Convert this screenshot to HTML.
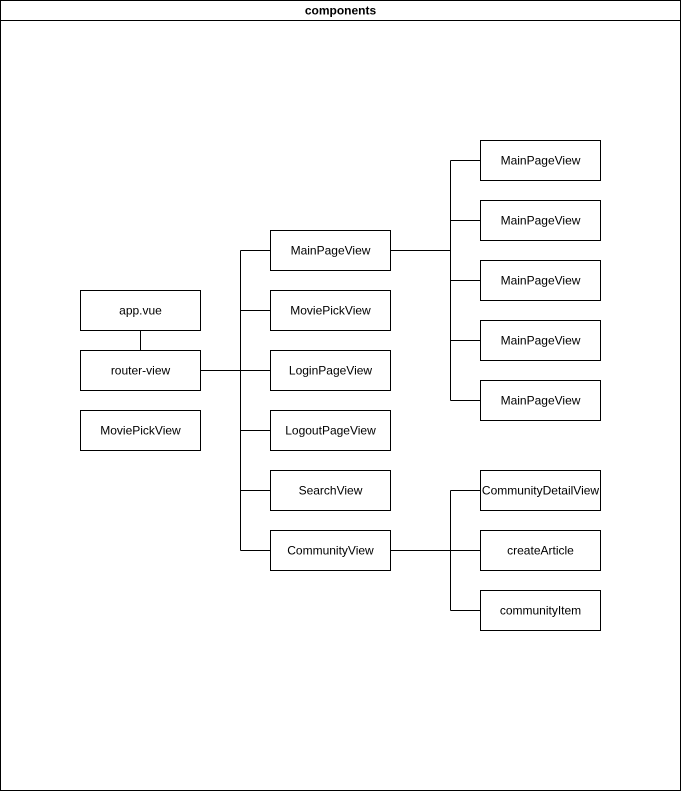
<!DOCTYPE html>
<html><head><meta charset="utf-8"><style>
html,body{margin:0;padding:0;background:#fff;}
svg{display:block;}
text{font-family:"Liberation Sans",Arial,sans-serif;font-size:12px;fill:#000;}
</style></head><body>
<svg width="681" height="791" viewBox="0 0 681 791" xmlns="http://www.w3.org/2000/svg">
<g fill="#fff" stroke="#000" stroke-width="1">
<rect x="0.5" y="0.5" width="680" height="790"/>
<line x1="0.5" y1="20.5" x2="680.5" y2="20.5"/>
</g>
<text x="340.5" y="14.5" text-anchor="middle" font-weight="bold" style="font-weight:bold">components</text>
<g fill="none" stroke="#000" stroke-width="1">
<path d="M140.5 330.5V350.5"/>
<path d="M200.5 370.5H240.5M240.5 250.5V550.5"/>
<path d="M240.5 250.5H270.5M240.5 310.5H270.5M240.5 370.5H270.5M240.5 430.5H270.5M240.5 490.5H270.5M240.5 550.5H270.5"/>
<path d="M390.5 250.5H450.5M450.5 160.5V400.5"/>
<path d="M450.5 160.5H480.5M450.5 220.5H480.5M450.5 280.5H480.5M450.5 340.5H480.5M450.5 400.5H480.5"/>
<path d="M390.5 550.5H480.5M450.5 490.5V610.5M450.5 490.5H480.5M450.5 610.5H480.5"/>
</g>
<g fill="#fff" stroke="#000" stroke-width="1">
<rect x="80.5" y="290.5" width="120" height="40"/>
<rect x="80.5" y="350.5" width="120" height="40"/>
<rect x="80.5" y="410.5" width="120" height="40"/>
<rect x="270.5" y="230.5" width="120" height="40"/>
<rect x="270.5" y="290.5" width="120" height="40"/>
<rect x="270.5" y="350.5" width="120" height="40"/>
<rect x="270.5" y="410.5" width="120" height="40"/>
<rect x="270.5" y="470.5" width="120" height="40"/>
<rect x="270.5" y="530.5" width="120" height="40"/>
<rect x="480.5" y="140.5" width="120" height="40"/>
<rect x="480.5" y="200.5" width="120" height="40"/>
<rect x="480.5" y="260.5" width="120" height="40"/>
<rect x="480.5" y="320.5" width="120" height="40"/>
<rect x="480.5" y="380.5" width="120" height="40"/>
<rect x="480.5" y="470.5" width="120" height="40"/>
<rect x="480.5" y="530.5" width="120" height="40"/>
<rect x="480.5" y="590.5" width="120" height="40"/>
</g>
<g text-anchor="middle">
<text x="140.5" y="314.5">app.vue</text>
<text x="140.5" y="374.5">router-view</text>
<text x="140.5" y="434.5">MoviePickView</text>
<text x="330.5" y="254.5">MainPageView</text>
<text x="330.5" y="314.5">MoviePickView</text>
<text x="330.5" y="374.5">LoginPageView</text>
<text x="330.5" y="434.5">LogoutPageView</text>
<text x="330.5" y="494.5">SearchView</text>
<text x="330.5" y="554.5">CommunityView</text>
<text x="540.5" y="164.5">MainPageView</text>
<text x="540.5" y="224.5">MainPageView</text>
<text x="540.5" y="284.5">MainPageView</text>
<text x="540.5" y="344.5">MainPageView</text>
<text x="540.5" y="404.5">MainPageView</text>
<text x="540.5" y="494.5">CommunityDetailView</text>
<text x="540.5" y="554.5">createArticle</text>
<text x="540.5" y="614.5">communityItem</text>
</g>
</svg>
</body></html>
